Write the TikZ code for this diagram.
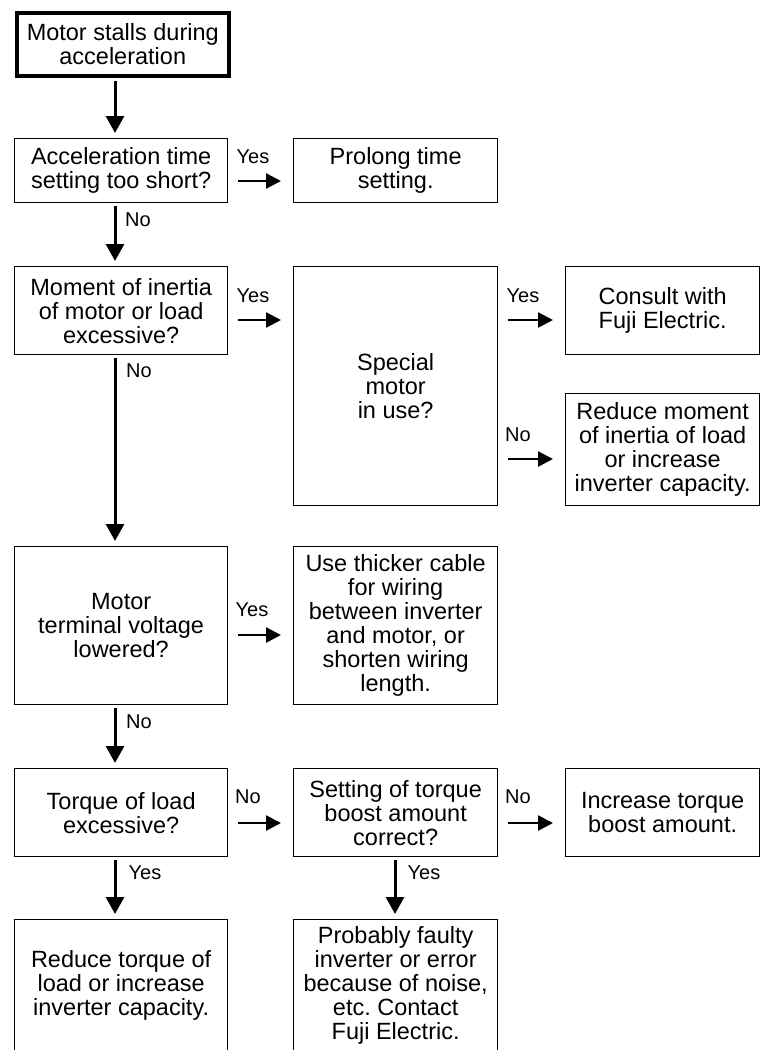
\documentclass[tikz,border=0pt]{standalone}
\usepackage{fontspec}
\setmainfont{Liberation Sans}
\usetikzlibrary{arrows.meta}
\frenchspacing
\begin{document}
\begin{tikzpicture}[x=1pt,y=-1pt,
  box/.style={draw, line width=1.3pt, rectangle, anchor=north west, inner sep=0pt,
    align=center, font=\fontsize{23.5}{24}\selectfont},
  lbl/.style={inner sep=0pt, font=\fontsize{20}{20}\selectfont},
  varr/.style={line width=3pt, -{Triangle[length=17pt,width=18pt]}, shorten <=3pt, shorten >=5pt},
  harr/.style={line width=2.5pt, -{Triangle[length=15pt,width=15pt]}, shorten <=9.5pt, shorten >=12pt}]
\useasboundingbox (0,0) rectangle (761,1050);
\clip (0,0) rectangle (761,1050);
% helper coordinates
\coordinate (colA) at (115,0);
\coordinate (colB) at (395,0);
\coordinate (r1) at (0,181);
\coordinate (r2) at (0,320);
\coordinate (r3) at (0,459);
\coordinate (r4) at (0,635);
\coordinate (r5) at (0,823);
% boxes
\node[box, line width=3.5pt, minimum width=212pt, minimum height=63pt] (n0) at (15,11) {Motor stalls during\\acceleration};
\node[box, minimum width=213pt, minimum height=64pt] (b1) at (14,138) {Acceleration time\\setting too short?};
\node[box, minimum width=204pt, minimum height=64pt] (p1) at (293,138) {Prolong time\\setting.};
\node[box, minimum width=213pt, minimum height=88pt] (b2) at (14,266) {Moment of inertia\\of motor or load\\excessive?};
\node[box, minimum width=204pt, minimum height=239pt] (s) at (293,266) {Special\\motor\\in use?};
\node[box, minimum width=194pt, minimum height=88pt] (c) at (565,266) {Consult with\\Fuji Electric.};
\node[box, minimum width=194pt, minimum height=112pt] (rm) at (565,393) {Reduce moment\\of inertia of load\\or increase\\inverter capacity.};
\node[box, minimum width=213pt, minimum height=158pt] (b3) at (14,546) {Motor\\terminal voltage\\lowered?};
\node[box, minimum width=204pt, minimum height=158pt] (t) at (293,546) {Use thicker cable\\for wiring\\between inverter\\and motor, or\\shorten wiring\\length.};
\node[box, minimum width=213pt, minimum height=88pt] (b4) at (14,768) {Torque of load\\excessive?};
\node[box, minimum width=204pt, minimum height=88pt] (st) at (293,768) {Setting of torque\\boost amount\\correct?};
\node[box, minimum width=194pt, minimum height=88pt] (inc) at (565,768) {Increase torque\\boost amount.};
\node[box, minimum width=213pt, minimum height=132pt] (rt) at (14,919) {Reduce torque of\\load or increase\\inverter capacity.};
\node[box, minimum width=204pt, minimum height=132pt] (pf) at (293,919) {Probably faulty\\inverter or error\\because of noise,\\etc. Contact\\Fuji Electric.};
% vertical connectors
\draw[varr] (n0.south -| colA) -- (b1.north -| colA);
\draw[varr] (b1.south -| colA) -- (b2.north -| colA);
\draw[varr] (b2.south -| colA) -- (b3.north -| colA);
\draw[varr] (b3.south -| colA) -- (b4.north -| colA);
\draw[varr] (b4.south -| colA) -- (rt.north -| colA);
\draw[varr] (st.south -| colB) -- (pf.north -| colB);
% horizontal connectors
\draw[harr] (b1.east |- r1) -- (p1.west |- r1);
\draw[harr] (b2.east |- r2) -- (s.west |- r2);
\draw[harr] (s.east |- r2) -- (c.west |- r2);
\draw[harr] (s.east |- r3) -- (rm.west |- r3);
\draw[harr] (b3.east |- r4) -- (t.west |- r4);
\draw[harr] (b4.east |- r5) -- (st.west |- r5);
\draw[harr] (st.east |- r5) -- (inc.west |- r5);
% labels
\node[lbl] (l1) at (253,157) {Yes};
\node[lbl] (l2) at (138,220) {No};
\node[lbl] (l3) at (253,296) {Yes};
\node[lbl] (l4) at (523,296) {Yes};
\node[lbl] (l5) at (518,435) {No};
\node[lbl] (l6) at (139,371) {No};
\node[lbl] (l7) at (252,610) {Yes};
\node[lbl] (l8) at (139,722) {No};
\node[lbl] (l9) at (248,797) {No};
\node[lbl] (l10) at (518,797) {No};
\node[lbl] (l11) at (145,873) {Yes};
\node[lbl] (l12) at (424,873) {Yes};
\end{tikzpicture}
\end{document}
